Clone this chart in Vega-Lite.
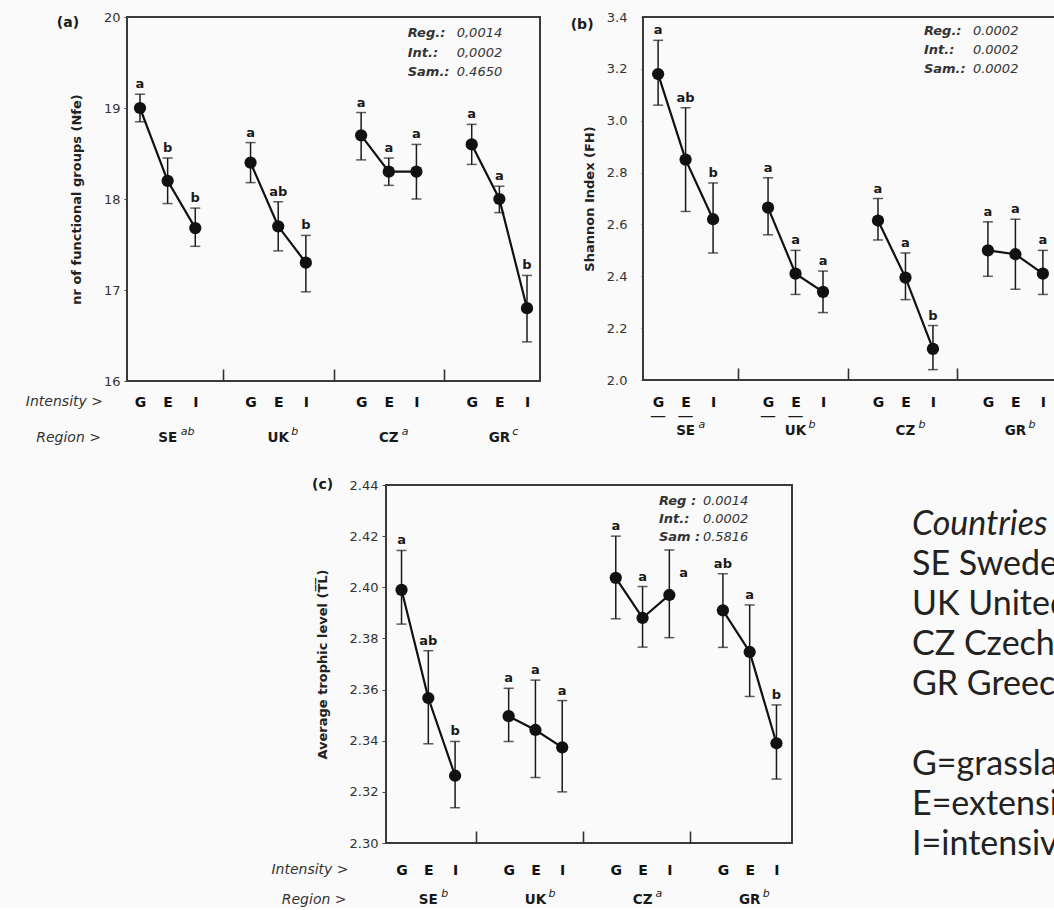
{
  "$schema": "https://vega.github.io/schema/vega-lite/v6.json",
  "background": "#fafafa",
  "padding": {"left": 20, "top": 10, "right": 0, "bottom": 0},
  "config": {
    "font": "DejaVu Sans",
    "view": {"stroke": "#3a3a3a", "strokeWidth": 2},
    "axis": {"labelFont": "DejaVu Sans", "labelFontSize": 13, "labelColor": "#333", "titleFont": "DejaVu Sans", "titleFontSize": 13, "titleFontWeight": "bold", "titleColor": "#222", "domain": false, "grid": false, "tickColor": "#444"},
    "text": {"font": "DejaVu Sans", "color": "#1a1a1a"}
  },
  "datasets": {
    "a": [
      {"region": "SE", "rsig": "ab", "intensity": "G", "level": 1, "cell": "SE G", "mean": 19.0, "lo": 18.85, "hi": 19.15, "letter": "a"},
      {"region": "SE", "rsig": "ab", "intensity": "E", "level": 2, "cell": "SE E", "mean": 18.2, "lo": 17.95, "hi": 18.45, "letter": "b"},
      {"region": "SE", "rsig": "ab", "intensity": "I", "level": 3, "cell": "SE I", "mean": 17.68, "lo": 17.48, "hi": 17.9, "letter": "b"},
      {"region": "UK", "rsig": "b", "intensity": "G", "level": 1, "cell": "UK G", "mean": 18.4, "lo": 18.18, "hi": 18.62, "letter": "a"},
      {"region": "UK", "rsig": "b", "intensity": "E", "level": 2, "cell": "UK E", "mean": 17.7, "lo": 17.43, "hi": 17.97, "letter": "ab"},
      {"region": "UK", "rsig": "b", "intensity": "I", "level": 3, "cell": "UK I", "mean": 17.3, "lo": 16.98, "hi": 17.6, "letter": "b"},
      {"region": "CZ", "rsig": "a", "intensity": "G", "level": 1, "cell": "CZ G", "mean": 18.7, "lo": 18.43, "hi": 18.95, "letter": "a"},
      {"region": "CZ", "rsig": "a", "intensity": "E", "level": 2, "cell": "CZ E", "mean": 18.3, "lo": 18.15, "hi": 18.45, "letter": "a"},
      {"region": "CZ", "rsig": "a", "intensity": "I", "level": 3, "cell": "CZ I", "mean": 18.3, "lo": 18.0, "hi": 18.6, "letter": "a"},
      {"region": "GR", "rsig": "c", "intensity": "G", "level": 1, "cell": "GR G", "mean": 18.6, "lo": 18.38, "hi": 18.82, "letter": "a"},
      {"region": "GR", "rsig": "c", "intensity": "E", "level": 2, "cell": "GR E", "mean": 18.0, "lo": 17.85, "hi": 18.14, "letter": "a"},
      {"region": "GR", "rsig": "c", "intensity": "I", "level": 3, "cell": "GR I", "mean": 16.8, "lo": 16.43, "hi": 17.16, "letter": "b"}
    ],
    "b": [
      {"region": "SE", "rsig": "a", "intensity": "G", "level": 1, "cell": "SE G", "mean": 3.18, "lo": 3.06, "hi": 3.31, "letter": "a", "underlined": true},
      {"region": "SE", "rsig": "a", "intensity": "E", "level": 2, "cell": "SE E", "mean": 2.85, "lo": 2.65, "hi": 3.05, "letter": "ab", "underlined": true},
      {"region": "SE", "rsig": "a", "intensity": "I", "level": 3, "cell": "SE I", "mean": 2.62, "lo": 2.49, "hi": 2.76, "letter": "b", "underlined": false},
      {"region": "UK", "rsig": "b", "intensity": "G", "level": 1, "cell": "UK G", "mean": 2.665, "lo": 2.56, "hi": 2.78, "letter": "a", "underlined": true},
      {"region": "UK", "rsig": "b", "intensity": "E", "level": 2, "cell": "UK E", "mean": 2.41, "lo": 2.33, "hi": 2.5, "letter": "a", "underlined": true},
      {"region": "UK", "rsig": "b", "intensity": "I", "level": 3, "cell": "UK I", "mean": 2.34, "lo": 2.26, "hi": 2.42, "letter": "a", "underlined": false},
      {"region": "CZ", "rsig": "b", "intensity": "G", "level": 1, "cell": "CZ G", "mean": 2.615, "lo": 2.54, "hi": 2.7, "letter": "a", "underlined": false},
      {"region": "CZ", "rsig": "b", "intensity": "E", "level": 2, "cell": "CZ E", "mean": 2.395, "lo": 2.31, "hi": 2.49, "letter": "a", "underlined": false},
      {"region": "CZ", "rsig": "b", "intensity": "I", "level": 3, "cell": "CZ I", "mean": 2.12, "lo": 2.04, "hi": 2.21, "letter": "b", "underlined": false},
      {"region": "GR", "rsig": "b", "intensity": "G", "level": 1, "cell": "GR G", "mean": 2.5, "lo": 2.4, "hi": 2.61, "letter": "a", "underlined": false},
      {"region": "GR", "rsig": "b", "intensity": "E", "level": 2, "cell": "GR E", "mean": 2.485, "lo": 2.35, "hi": 2.62, "letter": "a", "underlined": false},
      {"region": "GR", "rsig": "b", "intensity": "I", "level": 3, "cell": "GR I", "mean": 2.41, "lo": 2.33, "hi": 2.5, "letter": "a", "underlined": false}
    ],
    "c": [
      {"region": "SE", "rsig": "b", "intensity": "G", "level": 1, "cell": "SE G", "mean": 2.399, "lo": 2.3856, "hi": 2.4144, "letter": "a"},
      {"region": "SE", "rsig": "b", "intensity": "E", "level": 2, "cell": "SE E", "mean": 2.3567, "lo": 2.3388, "hi": 2.3752, "letter": "ab"},
      {"region": "SE", "rsig": "b", "intensity": "I", "level": 3, "cell": "SE I", "mean": 2.3263, "lo": 2.3138, "hi": 2.3397, "letter": "b"},
      {"region": "UK", "rsig": "b", "intensity": "G", "level": 1, "cell": "UK G", "mean": 2.3496, "lo": 2.3397, "hi": 2.3605, "letter": "a"},
      {"region": "UK", "rsig": "b", "intensity": "E", "level": 2, "cell": "UK E", "mean": 2.3442, "lo": 2.3256, "hi": 2.3637, "letter": "a"},
      {"region": "UK", "rsig": "b", "intensity": "I", "level": 3, "cell": "UK I", "mean": 2.3374, "lo": 2.32, "hi": 2.3557, "letter": "a"},
      {"region": "CZ", "rsig": "a", "intensity": "G", "level": 1, "cell": "CZ G", "mean": 2.4037, "lo": 2.3877, "hi": 2.42, "letter": "a"},
      {"region": "CZ", "rsig": "a", "intensity": "E", "level": 2, "cell": "CZ E", "mean": 2.388, "lo": 2.3766, "hi": 2.4003, "letter": "a"},
      {"region": "CZ", "rsig": "a", "intensity": "I", "level": 3, "cell": "CZ I", "mean": 2.397, "lo": 2.3803, "hi": 2.4146, "letter": "a"},
      {"region": "GR", "rsig": "b", "intensity": "G", "level": 1, "cell": "GR G", "mean": 2.391, "lo": 2.3765, "hi": 2.4053, "letter": "ab"},
      {"region": "GR", "rsig": "b", "intensity": "E", "level": 2, "cell": "GR E", "mean": 2.3747, "lo": 2.3573, "hi": 2.3931, "letter": "a"},
      {"region": "GR", "rsig": "b", "intensity": "I", "level": 3, "cell": "GR I", "mean": 2.339, "lo": 2.325, "hi": 2.354, "letter": "b"}
    ],
    "legend": [
      {"line": 0, "label": "Countries"},
      {"line": 1, "label": "SE Sweden"},
      {"line": 2, "label": "UK United Kingdom"},
      {"line": 3, "label": "CZ Czech Republic"},
      {"line": 4, "label": "GR Greece"},
      {"line": 6, "label": "G=grassland"},
      {"line": 7, "label": "E=extensive"},
      {"line": 8, "label": "I=intensive"}
    ]
  },
  "bounds": "flush",
  "spacing": 468,
  "vconcat": [
    {
      "bounds": "flush",
      "spacing": 103,
      "hconcat": [
        {
          "width": 413, "height": 364,
          "data": {"name": "a"},
          "layer": [
            {"mark": {"type": "rule", "color": "#1a1a1a", "strokeWidth": 1.5},
             "encoding": {
               "x": {"field": "cell", "type": "nominal", "title": null,
                     "scale": {"type": "point", "domain": ["SE G", "SE E", "SE I", "s1", "UK G", "UK E", "UK I", "s2", "CZ G", "CZ E", "CZ I", "s3", "GR G", "GR E", "GR I"], "padding": 0.47},
                     "axis": {"labelExpr": "slice(datum.value, 3)", "labelAngle": 0, "labelFontWeight": "bold", "labelFontSize": 14, "labelColor": "#111", "labelPadding": 26, "ticks": true, "tickSize": -12, "tickWidth": 1.6, "tickColor": "#333", "tickOpacity": {"condition": {"test": "length(datum.value) < 3", "value": 1}, "value": 0}, "domain": false}},
               "y": {"field": "lo", "type": "quantitative", "title": "nr of functional groups (Nfe)",
                     "scale": {"domain": [16, 20], "nice": false, "zero": false},
                     "axis": {"values": [16, 17, 18, 19, 20], "format": "d", "labelFlush": false, "tickSize": 3, "labelPadding": 4, "titlePadding": 20}},
               "y2": {"field": "hi"}}},
            {"mark": {"type": "tick", "color": "#1a1a1a", "size": 10, "thickness": 1.5},
             "encoding": {"x": {"field": "cell", "type": "nominal", "title": null}, "y": {"field": "lo", "type": "quantitative"}}},
            {"mark": {"type": "tick", "color": "#1a1a1a", "size": 10, "thickness": 1.5},
             "encoding": {"x": {"field": "cell", "type": "nominal", "title": null}, "y": {"field": "hi", "type": "quantitative"}}},
            {"mark": {"type": "line", "color": "#111", "strokeWidth": 2.2},
             "encoding": {"x": {"field": "cell", "type": "nominal", "title": null}, "y": {"field": "mean", "type": "quantitative"}, "detail": {"field": "region"}, "order": {"field": "level", "type": "quantitative"}}},
            {"mark": {"type": "point", "filled": true, "size": 150, "color": "#111", "opacity": 1},
             "encoding": {"x": {"field": "cell", "type": "nominal", "title": null}, "y": {"field": "mean", "type": "quantitative"}}},
            {"mark": {"type": "text", "fontWeight": "bold", "fontSize": 13, "baseline": "bottom", "dy": -3},
             "encoding": {"x": {"field": "cell", "type": "nominal", "title": null}, "y": {"field": "hi", "type": "quantitative"}, "text": {"field": "letter"}}},
            {"transform": [{"filter": "datum.intensity === 'E'"}],
             "mark": {"type": "text", "fontWeight": "bold", "fontSize": 13.5, "baseline": "middle", "dy": 57},
             "encoding": {"x": {"field": "cell", "type": "nominal", "title": null}, "y": {"datum": 16, "type": "quantitative"}, "text": {"field": "region"}}},
            {"transform": [{"filter": "datum.intensity === 'E'"}],
             "mark": {"type": "text", "fontStyle": "italic", "fontSize": 11, "align": "left", "baseline": "middle", "dx": 13, "dy": 51},
             "encoding": {"x": {"field": "cell", "type": "nominal", "title": null}, "y": {"datum": 16, "type": "quantitative"}, "text": {"field": "rsig"}}},
            {"transform": [{"filter": "datum.cell === 'SE G'"}],
             "mark": {"type": "text", "text": "Intensity  >", "fontStyle": "italic", "fontSize": 14, "color": "#333", "align": "right", "baseline": "middle", "dx": -37, "dy": 21},
             "encoding": {"x": {"field": "cell", "type": "nominal", "title": null}, "y": {"datum": 16, "type": "quantitative"}}},
            {"transform": [{"filter": "datum.cell === 'SE G'"}],
             "mark": {"type": "text", "text": "Region  >", "fontStyle": "italic", "fontSize": 14, "color": "#333", "align": "right", "baseline": "middle", "dx": -39, "dy": 57},
             "encoding": {"x": {"field": "cell", "type": "nominal", "title": null}, "y": {"datum": 16, "type": "quantitative"}}},
            {"transform": [{"filter": "datum.cell === 'SE G'"}],
             "mark": {"type": "text", "text": "(a)", "fontWeight": "bold", "fontSize": 14, "baseline": "middle", "dx": -72, "dy": 6},
             "encoding": {"x": {"field": "cell", "type": "nominal", "title": null}, "y": {"datum": 20, "type": "quantitative"}}},
            {"transform": [{"filter": "datum.cell === 'GR G'"}],
             "mark": {"type": "text", "text": ["Reg.:", "Int.:", "Sam.:"], "fontWeight": "bold", "fontStyle": "italic", "fontSize": 13, "align": "left", "baseline": "top", "lineHeight": 19.5, "dx": -64, "dy": 10, "color": "#333"},
             "encoding": {"x": {"field": "cell", "type": "nominal", "title": null}, "y": {"datum": 20, "type": "quantitative"}}},
            {"transform": [{"filter": "datum.cell === 'GR G'"}],
             "mark": {"type": "text", "text": ["0,0014", "0,0002", "0.4650"], "fontStyle": "italic", "fontSize": 13, "align": "left", "baseline": "top", "lineHeight": 19.5, "dx": -15, "dy": 10, "color": "#333"},
             "encoding": {"x": {"field": "cell", "type": "nominal", "title": null}, "y": {"datum": 20, "type": "quantitative"}}}
          ]
        },
        {
          "width": 415, "height": 363,
          "data": {"name": "b"},
          "layer": [
            {"mark": {"type": "rule", "color": "#1a1a1a", "strokeWidth": 1.5},
             "encoding": {
               "x": {"field": "cell", "type": "nominal", "title": null,
                     "scale": {"type": "point", "domain": ["SE G", "SE E", "SE I", "s1", "UK G", "UK E", "UK I", "s2", "CZ G", "CZ E", "CZ I", "s3", "GR G", "GR E", "GR I"], "padding": 0.55},
                     "axis": {"labelExpr": "slice(datum.value, 3)", "labelAngle": 0, "labelFontWeight": "bold", "labelFontSize": 14, "labelColor": "#111", "labelPadding": 27, "ticks": true, "tickSize": -12, "tickWidth": 1.6, "tickColor": "#333", "tickOffset": -3, "labelOffset": 3, "tickOpacity": {"condition": {"test": "length(datum.value) < 3", "value": 1}, "value": 0}, "domain": false}},
               "y": {"field": "lo", "type": "quantitative", "title": "Shannon Index (FH)",
                     "scale": {"domain": [2.0, 3.4], "nice": false, "zero": false},
                     "axis": {"values": [2.0, 2.2, 2.4, 2.6, 2.8, 3.0, 3.2, 3.4], "format": ".1f", "labelFlush": false, "tickSize": 2, "labelPadding": 14, "titlePadding": 10}},
               "y2": {"field": "hi"}}},
            {"mark": {"type": "tick", "color": "#1a1a1a", "size": 10, "thickness": 1.5},
             "encoding": {"x": {"field": "cell", "type": "nominal", "title": null}, "y": {"field": "lo", "type": "quantitative"}}},
            {"mark": {"type": "tick", "color": "#1a1a1a", "size": 10, "thickness": 1.5},
             "encoding": {"x": {"field": "cell", "type": "nominal", "title": null}, "y": {"field": "hi", "type": "quantitative"}}},
            {"mark": {"type": "line", "color": "#111", "strokeWidth": 2.2},
             "encoding": {"x": {"field": "cell", "type": "nominal", "title": null}, "y": {"field": "mean", "type": "quantitative"}, "detail": {"field": "region"}, "order": {"field": "level", "type": "quantitative"}}},
            {"mark": {"type": "point", "filled": true, "size": 150, "color": "#111", "opacity": 1},
             "encoding": {"x": {"field": "cell", "type": "nominal", "title": null}, "y": {"field": "mean", "type": "quantitative"}}},
            {"mark": {"type": "text", "fontWeight": "bold", "fontSize": 13, "baseline": "bottom", "dy": -3},
             "encoding": {"x": {"field": "cell", "type": "nominal", "title": null}, "y": {"field": "hi", "type": "quantitative"}, "text": {"field": "letter"}}},
            {"transform": [{"filter": "datum.intensity === 'E'"}],
             "mark": {"type": "text", "fontWeight": "bold", "fontSize": 13.5, "baseline": "middle", "dy": 51},
             "encoding": {"x": {"field": "cell", "type": "nominal", "title": null}, "y": {"datum": 2.0, "type": "quantitative"}, "text": {"field": "region"}}},
            {"transform": [{"filter": "datum.intensity === 'E'"}],
             "mark": {"type": "text", "fontStyle": "italic", "fontSize": 11, "align": "left", "baseline": "middle", "dx": 13, "dy": 45},
             "encoding": {"x": {"field": "cell", "type": "nominal", "title": null}, "y": {"datum": 2.0, "type": "quantitative"}, "text": {"field": "rsig"}}},
            {"transform": [{"filter": "datum.underlined"}],
             "mark": {"type": "text", "text": "—", "fontSize": 16, "baseline": "middle", "dy": 36},
             "encoding": {"x": {"field": "cell", "type": "nominal", "title": null}, "y": {"datum": 2.0, "type": "quantitative"}}},
            {"transform": [{"filter": "datum.cell === 'SE G'"}],
             "mark": {"type": "text", "text": "(b)", "fontWeight": "bold", "fontSize": 14, "baseline": "middle", "dx": -76, "dy": 8},
             "encoding": {"x": {"field": "cell", "type": "nominal", "title": null}, "y": {"datum": 3.4, "type": "quantitative"}}},
            {"transform": [{"filter": "datum.cell === 'GR G'"}],
             "mark": {"type": "text", "text": ["Reg.:", "Int.:", "Sam.:"], "fontWeight": "bold", "fontStyle": "italic", "fontSize": 13, "align": "left", "baseline": "top", "lineHeight": 19, "dx": -64, "dy": 8, "color": "#333"},
             "encoding": {"x": {"field": "cell", "type": "nominal", "title": null}, "y": {"datum": 3.4, "type": "quantitative"}}},
            {"transform": [{"filter": "datum.cell === 'GR G'"}],
             "mark": {"type": "text", "text": ["0.0002", "0.0002", "0.0002"], "fontStyle": "italic", "fontSize": 13, "align": "left", "baseline": "top", "lineHeight": 19, "dx": -15, "dy": 8, "color": "#333"},
             "encoding": {"x": {"field": "cell", "type": "nominal", "title": null}, "y": {"datum": 3.4, "type": "quantitative"}}}
          ]
        }
      ]
    },
    {
      "bounds": "flush",
      "spacing": 120,
      "hconcat": [
        {
          "width": 139, "height": 10,
          "view": {"stroke": null},
          "data": {"values": [{}]},
          "mark": {"type": "text", "text": ""}
        },
        {
          "width": 406, "height": 358,
          "data": {"name": "c"},
          "layer": [
            {"mark": {"type": "rule", "color": "#1a1a1a", "strokeWidth": 1.5},
             "encoding": {
               "x": {"field": "cell", "type": "nominal", "title": null,
                     "scale": {"type": "point", "domain": ["SE G", "SE E", "SE I", "s1", "UK G", "UK E", "UK I", "s2", "CZ G", "CZ E", "CZ I", "s3", "GR G", "GR E", "GR I"], "padding": 0.58},
                     "axis": {"labelExpr": "slice(datum.value, 3)", "labelAngle": 0, "labelFontWeight": "bold", "labelFontSize": 14, "labelColor": "#111", "labelPadding": 32, "ticks": true, "tickSize": -12, "tickWidth": 1.6, "tickColor": "#333", "tickOffset": -6, "labelOffset": 6, "tickOpacity": {"condition": {"test": "length(datum.value) < 3", "value": 1}, "value": 0}, "domain": false}},
               "y": {"field": "lo", "type": "quantitative", "title": "Average trophic level (T̅L̅)",
                     "scale": {"domain": [2.3, 2.44], "nice": false, "zero": false},
                     "axis": {"values": [2.3, 2.32, 2.34, 2.36, 2.38, 2.4, 2.42, 2.44], "format": ".2f", "labelFlush": false, "tickSize": 4, "labelPadding": 4, "titlePadding": 20}},
               "y2": {"field": "hi"}}},
            {"mark": {"type": "tick", "color": "#1a1a1a", "size": 10, "thickness": 1.5},
             "encoding": {"x": {"field": "cell", "type": "nominal", "title": null}, "y": {"field": "lo", "type": "quantitative"}}},
            {"mark": {"type": "tick", "color": "#1a1a1a", "size": 10, "thickness": 1.5},
             "encoding": {"x": {"field": "cell", "type": "nominal", "title": null}, "y": {"field": "hi", "type": "quantitative"}}},
            {"mark": {"type": "line", "color": "#111", "strokeWidth": 2.2},
             "encoding": {"x": {"field": "cell", "type": "nominal", "title": null}, "y": {"field": "mean", "type": "quantitative"}, "detail": {"field": "region"}, "order": {"field": "level", "type": "quantitative"}}},
            {"mark": {"type": "point", "filled": true, "size": 150, "color": "#111", "opacity": 1},
             "encoding": {"x": {"field": "cell", "type": "nominal", "title": null}, "y": {"field": "mean", "type": "quantitative"}}},
            {"transform": [{"filter": "datum.cell !== 'CZ I'"}],
             "mark": {"type": "text", "fontWeight": "bold", "fontSize": 13, "baseline": "bottom", "dy": -3},
             "encoding": {"x": {"field": "cell", "type": "nominal", "title": null}, "y": {"field": "hi", "type": "quantitative"}, "text": {"field": "letter"}}},
            {"transform": [{"filter": "datum.cell === 'CZ I'"}],
             "mark": {"type": "text", "fontWeight": "bold", "fontSize": 13, "baseline": "middle", "align": "left", "dx": 10, "dy": -22},
             "encoding": {"x": {"field": "cell", "type": "nominal", "title": null}, "y": {"field": "mean", "type": "quantitative"}, "text": {"field": "letter"}}},
            {"transform": [{"filter": "datum.intensity === 'E'"}],
             "mark": {"type": "text", "fontWeight": "bold", "fontSize": 13.5, "baseline": "middle", "dy": 57},
             "encoding": {"x": {"field": "cell", "type": "nominal", "title": null}, "y": {"datum": 2.3, "type": "quantitative"}, "text": {"field": "region"}}},
            {"transform": [{"filter": "datum.intensity === 'E'"}],
             "mark": {"type": "text", "fontStyle": "italic", "fontSize": 11, "align": "left", "baseline": "middle", "dx": 13, "dy": 51},
             "encoding": {"x": {"field": "cell", "type": "nominal", "title": null}, "y": {"datum": 2.3, "type": "quantitative"}, "text": {"field": "rsig"}}},
            {"transform": [{"filter": "datum.cell === 'SE G'"}],
             "mark": {"type": "text", "text": "Intensity  >", "fontStyle": "italic", "fontSize": 14, "color": "#333", "align": "right", "baseline": "middle", "dx": -53, "dy": 27},
             "encoding": {"x": {"field": "cell", "type": "nominal", "title": null}, "y": {"datum": 2.3, "type": "quantitative"}}},
            {"transform": [{"filter": "datum.cell === 'SE G'"}],
             "mark": {"type": "text", "text": "Region  >", "fontStyle": "italic", "fontSize": 14, "color": "#333", "align": "right", "baseline": "middle", "dx": -55, "dy": 57},
             "encoding": {"x": {"field": "cell", "type": "nominal", "title": null}, "y": {"datum": 2.3, "type": "quantitative"}}},
            {"transform": [{"filter": "datum.cell === 'SE G'"}],
             "mark": {"type": "text", "text": "(c)", "fontWeight": "bold", "fontSize": 14, "baseline": "middle", "dx": -79, "dy": 0},
             "encoding": {"x": {"field": "cell", "type": "nominal", "title": null}, "y": {"datum": 2.44, "type": "quantitative"}}},
            {"transform": [{"filter": "datum.cell === 'GR G'"}],
             "mark": {"type": "text", "text": ["Reg :", "Int.:", "Sam :"], "fontWeight": "bold", "fontStyle": "italic", "fontSize": 13, "align": "left", "baseline": "top", "lineHeight": 18, "dx": -64, "dy": 10, "color": "#333"},
             "encoding": {"x": {"field": "cell", "type": "nominal", "title": null}, "y": {"datum": 2.44, "type": "quantitative"}}},
            {"transform": [{"filter": "datum.cell === 'GR G'"}],
             "mark": {"type": "text", "text": ["0.0014", "0.0002", "0.5816"], "fontStyle": "italic", "fontSize": 13, "align": "left", "baseline": "top", "lineHeight": 18, "dx": -20, "dy": 10, "color": "#333"},
             "encoding": {"x": {"field": "cell", "type": "nominal", "title": null}, "y": {"datum": 2.44, "type": "quantitative"}}}
          ]
        },
        {
          "width": 142, "height": 400,
          "view": {"stroke": null},
          "data": {"name": "legend"},
          "layer": [
            {"transform": [{"filter": "datum.line === 0"}],
             "mark": {"type": "text", "align": "left", "baseline": "middle", "font": "Lato", "fontSize": 34, "fontStyle": "italic", "color": "#222", "clip": true},
             "encoding": {
               "x": {"datum": 0, "type": "quantitative", "scale": {"domain": [0, 1]}, "axis": null},
               "y": {"field": "line", "type": "quantitative", "scale": {"domain": [-0.689, 8.2], "reverse": true}, "axis": null},
               "text": {"field": "label"}}},
            {"transform": [{"filter": "datum.line > 0"}],
             "mark": {"type": "text", "align": "left", "baseline": "middle", "font": "Lato", "fontSize": 34, "color": "#222", "clip": true},
             "encoding": {
               "x": {"datum": 0, "type": "quantitative"},
               "y": {"field": "line", "type": "quantitative"},
               "text": {"field": "label"}}}
          ]
        }
      ]
    }
  ]
}
